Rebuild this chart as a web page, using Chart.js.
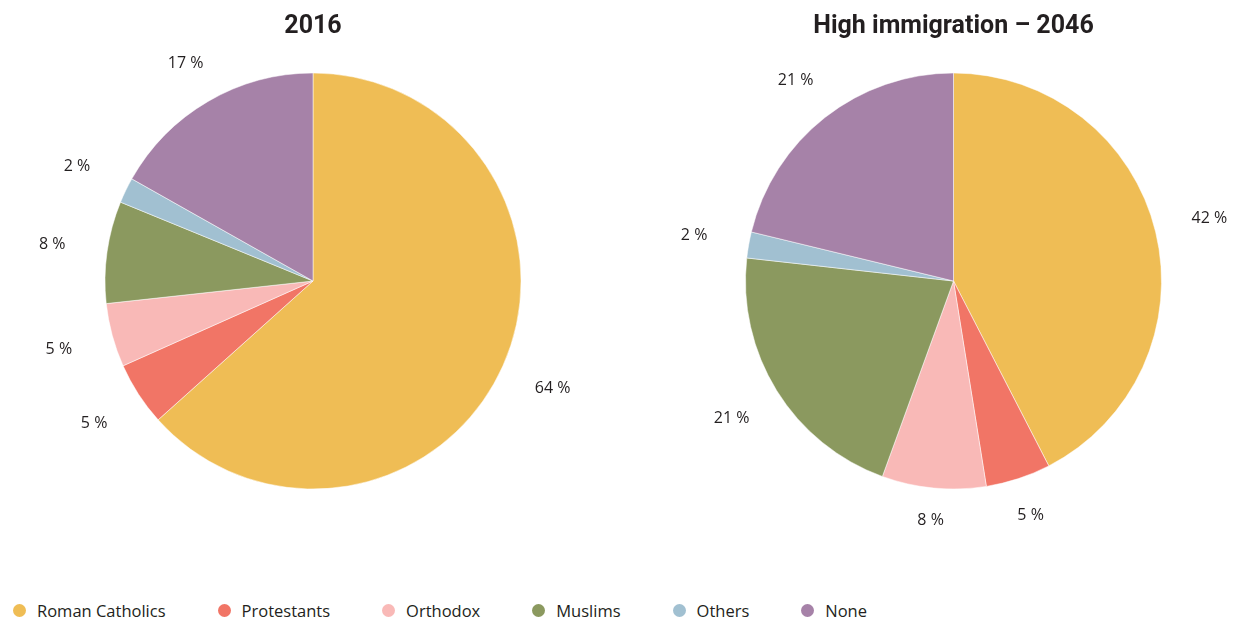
<!DOCTYPE html>
<html>
<head>
<meta charset="utf-8">
<title>Religious affiliation – 2016 and 2046</title>
<script src="https://cdn.jsdelivr.net/npm/chart.js@4.4.1/dist/chart.umd.min.js"></script>
<style>
  html, body { margin: 0; padding: 0; background: #fff; width: 1239px; height: 621px; overflow: hidden; }
  #wrap { position: relative; width: 1239px; height: 621px; }
  canvas { position: absolute; top: 0; }
  #pieLeft { left: 0; }
  #pieRight { left: 668px; }
  #legend {
    position: absolute; left: 13px; top: 599px; height: 22px;
    display: flex; align-items: center; gap: 52px;
    font-family: "Open Sans", sans-serif; font-size: 16.5px; color: #231f20;
  }
  #legend .item { display: flex; align-items: center; white-space: nowrap; }
  #legend .dot { width: 13px; height: 13px; border-radius: 50%; margin-right: 11px; flex: none; }
</style>
</head>
<body>
<div id="wrap">
  <canvas id="pieLeft" width="626" height="565"></canvas>
  <canvas id="pieRight" width="571" height="565"></canvas>
  <div id="legend"></div>
</div>
<script>
// Religious groups and their shares (%)
const categories = ['Roman Catholics', 'Protestants', 'Orthodox', 'Muslims', 'Others', 'None'];
const shares2016 = [64, 5, 5, 8, 2, 17];
const sharesHigh2046 = [42, 5, 8, 21, 2, 21];
const titles = ['2016', 'High immigration – 2046'];
const groupColors = ['#efbd55', '#f17566', '#f9b9b7', '#8b995f', '#a1c0d1', '#a682a8'];

const TEXT = '#231f20';

// Percentage labels placed just outside each slice
const outsideLabels = {
  id: 'outsideLabels',
  afterDatasetsDraw(chart) {
    const ctx = chart.ctx;
    const ds = chart.data.datasets[0];
    const meta = chart.getDatasetMeta(0);
    ctx.save();
    ctx.font = '16px "Open Sans", sans-serif';
    ctx.fillStyle = TEXT;
    ctx.textAlign = 'center';
    ctx.textBaseline = 'middle';
    meta.data.forEach((arc, i) => {
      const p = arc.getProps(['x', 'y', 'startAngle', 'endAngle', 'outerRadius'], true);
      const mid = (p.startAngle + p.endAngle) / 2;
      const dx = Math.cos(mid), dy = Math.sin(mid);
      const r = p.outerRadius + 25 + 30 * Math.abs(dx) + 5 * Math.abs(dy);
      ctx.fillText(ds.data[i] + ' %', p.x + dx * r, p.y + dy * r);
    });
    ctx.restore();
  }
};

function makePie(id, title, values) {
  return new Chart(document.getElementById(id), {
    type: 'pie',
    data: {
      labels: categories,
      datasets: [{
        data: values,
        backgroundColor: groupColors,
        borderColor: '#ffffff',
        borderWidth: 0.5,
        radius: 208
      }]
    },
    options: {
      responsive: false,
      animation: false,
      layout: { padding: { bottom: 52 } },
      plugins: {
        legend: { display: false },
        tooltip: { enabled: false },
        title: {
          display: true,
          text: title,
          color: TEXT,
          font: { family: 'Roboto', size: 25, weight: 'bold', lineHeight: 1.2 },
          padding: { top: 12, bottom: 7 }
        }
      }
    },
    plugins: [outsideLabels]
  });
}

const leftChart = makePie('pieLeft', titles[0], shares2016);
makePie('pieRight', titles[1], sharesHigh2046);

// Shared legend built from the chart's own legend items
const legendEl = document.getElementById('legend');
leftChart.options.plugins.legend.labels.generateLabels(leftChart).forEach(item => {
  const el = document.createElement('div');
  el.className = 'item';
  const dot = document.createElement('span');
  dot.className = 'dot';
  dot.style.background = item.fillStyle;
  const txt = document.createElement('span');
  txt.textContent = item.text;
  el.appendChild(dot);
  el.appendChild(txt);
  legendEl.appendChild(el);
});
</script>
</body>
</html>
